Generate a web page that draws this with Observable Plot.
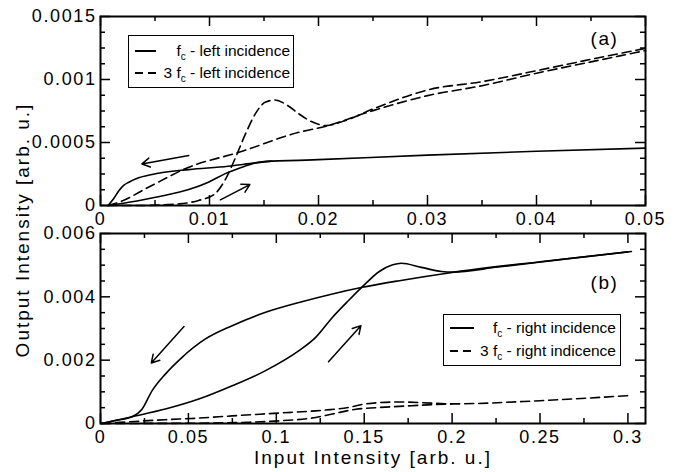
<!DOCTYPE html>
<html><head><meta charset="utf-8">
<script src="https://cdn.jsdelivr.net/npm/d3@7"></script>
<script src="https://cdn.jsdelivr.net/npm/@observablehq/plot@0.6"></script>
<style>
body{margin:0;background:#fff;}
#chart{position:relative;width:678px;height:472px;font-family:"Liberation Sans",Arial,sans-serif;color:#000;overflow:hidden;}
#chart svg{position:absolute;left:0;top:0;}
.legend{position:absolute;box-sizing:border-box;border:1px solid #000;background:#fff;font-size:15.5px;}
.row{position:absolute;left:0;right:0;height:20px;}
.row svg{position:absolute;top:0;}
.row .lab{position:absolute;top:0;line-height:20px;white-space:nowrap;}
.row sub{font-size:10px;vertical-align:-4px;line-height:0;}
.axlab{position:absolute;font-size:19px;letter-spacing:2px;white-space:nowrap;}
</style>
</head><body>
<div id="chart"></div>
<script>
// ---------- Panel (a): left incidence ----------
const aFcUpX   = [0.0007, 0.0026, 0.0053, 0.0081, 0.0099, 0.0114, 0.0130, 0.0142, 0.0157];
const aFcUpY   = [0, 0.000026, 0.00007, 0.000127, 0.000185, 0.000251, 0.000304, 0.000338, 0.000352];
const aFcDownX = [0.0007, 0.0012, 0.0017, 0.0021, 0.0026, 0.0035, 0.0053, 0.0081, 0.0117, 0.0142, 0.0157, 0.0182, 0.020, 0.030, 0.040, 0.050];
const aFcDownY = [0, 0.000053, 0.000119, 0.000158, 0.000185, 0.00022, 0.000256, 0.000285, 0.000311, 0.000338, 0.000352, 0.000358, 0.000364, 0.0004, 0.00043, 0.000455];
const a3FcDownX = [0.0007, 0.0017, 0.0044, 0.0081, 0.0127, 0.0182, 0.0205, 0.025, 0.030, 0.035, 0.040, 0.045, 0.050];
const a3FcDownY = [0, 0.000026, 0.000145, 0.000304, 0.000422, 0.000581, 0.000625, 0.000753, 0.000872, 0.000951, 0.00105, 0.00114, 0.00123];
const a3FcUpX = [0.0007, 0.0035, 0.0072, 0.0090, 0.0105, 0.0114, 0.0124, 0.0133, 0.0142, 0.0151, 0.0160, 0.0172, 0.0182, 0.0195, 0.0207, 0.0220, 0.025, 0.030, 0.035, 0.040, 0.045, 0.050];
const a3FcUpY = [0, 0, 0.000013, 0.00004, 0.000093, 0.000198, 0.000383, 0.000568, 0.000727, 0.000819, 0.000837, 0.000792, 0.000727, 0.00066, 0.000634, 0.00066, 0.000766, 0.000917, 0.000983, 0.00107, 0.00116, 0.001247];
const aArrowX1 = [0.0081, 0.0110];
const aArrowY1 = [0.000396, 0.000045];
const aArrowX2 = [0.0038, 0.0137];
const aArrowY2 = [0.00033, 0.000166];
const aXDomain = [0, 0.05];
const aYDomain = [0, 0.0015];
const aXMajor = [0, 0.01, 0.02, 0.03, 0.04, 0.05];
const aXLabels = ["0", "0.01", "0.02", "0.03", "0.04", "0.05"];
const aXMinor = [0.005, 0.015, 0.025, 0.035, 0.045];
const aYMajor = [0, 0.0005, 0.001, 0.0015];
const aYLabels = ["0", "0.0005", "0.001", "0.0015"];
const aYMinor = [0.000125, 0.00025, 0.000375, 0.000625, 0.00075, 0.000875, 0.001125, 0.00125, 0.001375];

// ---------- Panel (b): right incidence ----------
const bFcDownX = [0.0007, 0.009, 0.0179, 0.0236, 0.0293, 0.0369, 0.0464, 0.0597, 0.0749, 0.0939, 0.1129, 0.1319, 0.149, 0.17, 0.2, 0.25, 0.302];
const bFcDownY = [0, 0.0001, 0.000212, 0.00045, 0.00103, 0.00156, 0.00209, 0.00267, 0.00309, 0.00351, 0.00382, 0.00409, 0.0043, 0.00451, 0.00477, 0.00511, 0.00543];
const bFcUpX = [0.0007, 0.009, 0.0179, 0.0369, 0.0559, 0.0749, 0.0939, 0.1129, 0.1224, 0.1319, 0.1414, 0.149, 0.1586, 0.1662, 0.1711, 0.1825, 0.1939, 0.2, 0.226, 0.264, 0.3];
const bFcUpY = [0, 0.0001, 0.000212, 0.000455, 0.00077, 0.00119, 0.00167, 0.0023, 0.00272, 0.00335, 0.0039, 0.00432, 0.0048, 0.00501, 0.00506, 0.00493, 0.0048, 0.00478, 0.00494, 0.00519, 0.00542];
const b3FcDownX = [0.0007, 0.0369, 0.0559, 0.0749, 0.1015, 0.1224, 0.1414, 0.151, 0.17, 0.19, 0.2, 0.25, 0.3];
const b3FcDownY = [0, 0.00012, 0.00017, 0.00024, 0.00033, 0.0004, 0.00051, 0.00062, 0.00068, 0.00064, 0.00062, 0.00072, 0.00088];
const b3FcUpX = [0.0007, 0.0559, 0.0844, 0.1034, 0.1224, 0.1319, 0.1452, 0.1567, 0.17, 0.19, 0.2];
const b3FcUpY = [0, 0.00001, 0.00004, 0.00009, 0.00019, 0.0003, 0.00045, 0.0005, 0.00054, 0.0006, 0.00062];
const bArrowX1 = [0.0475, 0.1297];
const bArrowY1 = [0.00306, 0.00195];
const bArrowX2 = [0.0289, 0.1481];
const bArrowY2 = [0.00191, 0.00309];
const bXDomain = [0, 0.31];
const bYDomain = [0, 0.006];
const bXMajor = [0, 0.05, 0.1, 0.15, 0.2, 0.25, 0.3];
const bXLabels = ["0", "0.05", "0.1", "0.15", "0.2", "0.25", "0.3"];
const bXMinor = [0.025, 0.075, 0.125, 0.175, 0.225, 0.275];
const bYMajor = [0, 0.002, 0.004, 0.006];
const bYLabels = ["0", "0.002", "0.004", "0.006"];
const bYMinor = [0.0005, 0.001, 0.0015, 0.0025, 0.003, 0.0035, 0.0045, 0.005, 0.0055];

// ---------- Text ----------
const yTitle = "Output Intensity [arb. u.]";
const xTitle = "Input Intensity [arb. u.]";
const aTag = "(a)", bTag = "(b)";
const aLegend = [["", "f", "c", " - left incidence"], ["3 ", "f", "c", " - left incidence"]];
const bLegend = [["", "f", "c", " - right incidence"], ["3 ", "f", "c", " - right indicence"]];

const W = 678, H = 472;
const pts = (xs, ys) => xs.map((x, i) => ({x, y: ys[i]}));

function panel(o) {
  const ml = 100, mr = 33, mt = o.top, mb = H - o.bottom;
  const fw = W - ml - mr, fh = o.bottom - o.top;
  const major = 10, minor = 5;
  const lineOpts = dash => ({x: "x", y: "y", stroke: "black", strokeWidth: 1.6, curve: "monotone-x", strokeDasharray: dash ? "9,5" : null});
  const arrows = o.ax1.map((d, i) => ({x1: d, y1: o.ay1[i], x2: o.ax2[i], y2: o.ay2[i]}));
  return Plot.plot({
    width: W, height: H,
    marginLeft: ml, marginRight: mr, marginTop: mt, marginBottom: mb,
    x: {domain: o.xDomain, label: null},
    y: {domain: o.yDomain, label: null},
    style: {background: "transparent", fontFamily: "'Liberation Sans', Arial, sans-serif", fontSize: "18px", letterSpacing: "1.6px", overflow: "visible", color: "black"},
    marks: [
      ...o.series.map(s => Plot.line(pts(s.x, s.y), lineOpts(s.dash))),
      Plot.arrow(arrows, {x1: "x1", y1: "y1", x2: "x2", y2: "y2", stroke: "black", strokeWidth: 1.5, headLength: 9}),
      Plot.tickX(o.xMajor, {x: d => d, insetTop: fh - major, strokeWidth: 1.5}),
      Plot.tickX(o.xMajor, {x: d => d, insetBottom: fh - major, strokeWidth: 1.5}),
      Plot.tickX(o.xMinor, {x: d => d, insetTop: fh - minor, strokeWidth: 1.5}),
      Plot.tickX(o.xMinor, {x: d => d, insetBottom: fh - minor, strokeWidth: 1.5}),
      Plot.tickY(o.yMajor, {y: d => d, insetRight: fw - major, strokeWidth: 1.5}),
      Plot.tickY(o.yMajor, {y: d => d, insetLeft: fw - major, strokeWidth: 1.5}),
      Plot.tickY(o.yMinor, {y: d => d, insetRight: fw - minor, strokeWidth: 1.5}),
      Plot.tickY(o.yMinor, {y: d => d, insetLeft: fw - minor, strokeWidth: 1.5}),
      Plot.frame({stroke: "black", strokeWidth: 2}),
      Plot.axisX({ticks: o.xMajor, tickSize: 0, tickPadding: 7, label: null, tickFormat: d => o.xLabels[o.xMajor.indexOf(d)]}),
      Plot.axisY({ticks: o.yMajor, tickSize: 0, tickPadding: 4, label: null, tickFormat: d => o.yLabels[o.yMajor.indexOf(d)]}),
      Plot.text([o.tag], {text: d => d, frameAnchor: "top-right", lineAnchor: "middle", dx: -41, dy: o.tagDy, textAnchor: "middle", fontSize: 19})
    ]
  });
}

const chart = document.getElementById("chart");
chart.appendChild(panel({
  top: 16, bottom: 205, xDomain: aXDomain, yDomain: aYDomain,
  xMajor: aXMajor, xLabels: aXLabels, xMinor: aXMinor, yMajor: aYMajor, yLabels: aYLabels, yMinor: aYMinor,
  series: [{x: aFcUpX, y: aFcUpY}, {x: aFcDownX, y: aFcDownY}, {x: a3FcDownX, y: a3FcDownY, dash: true}, {x: a3FcUpX, y: a3FcUpY, dash: true}],
  ax1: aArrowX1, ay1: aArrowY1, ax2: aArrowX2, ay2: aArrowY2, tag: aTag, tagDy: 22
}));
chart.appendChild(panel({
  top: 233, bottom: 423, xDomain: bXDomain, yDomain: bYDomain,
  xMajor: bXMajor, xLabels: bXLabels, xMinor: bXMinor, yMajor: bYMajor, yLabels: bYLabels, yMinor: bYMinor,
  series: [{x: bFcUpX, y: bFcUpY}, {x: bFcDownX, y: bFcDownY}, {x: b3FcDownX, y: b3FcDownY, dash: true}, {x: b3FcUpX, y: b3FcUpY, dash: true}],
  ax1: bArrowX1, ay1: bArrowY1, ax2: bArrowX2, ay2: bArrowY2, tag: bTag, tagDy: 49
}));

function legend(entries, box, rowsY, sx, padRight) {
  const div = document.createElement("div");
  div.className = "legend";
  Object.assign(div.style, {left: box[0] + "px", top: box[1] + "px", width: box[2] + "px", height: box[3] + "px"});
  entries.forEach((e, i) => {
    const row = document.createElement("div");
    row.className = "row";
    row.style.top = (rowsY[i] - 10) + "px";
    const dash = i === 1 ? ' stroke-dasharray="8,5"' : '';
    row.innerHTML = `<svg width="${sx[1]}" height="20" style="left:0"><line x1="${sx[0]}" x2="${sx[1]}" y1="10" y2="10" stroke="black" stroke-width="2"${dash}/></svg>` +
      `<span class="lab" style="right:${padRight}px">${e[0]}${e[1]}<sub>${e[2]}</sub>${e[3]}</span>`;
    div.appendChild(row);
  });
  chart.appendChild(div);
}
legend(aLegend, [128, 35, 166, 53], [15, 37], [6, 27], 3);
legend(bLegend, [443, 314, 178, 52], [13, 36], [6, 30], 4);

const yl = document.createElement("div");
yl.className = "axlab"; yl.textContent = yTitle;
Object.assign(yl.style, {left: "23px", top: "230px", transform: "translate(-50%,-50%) rotate(-90deg)"});
chart.appendChild(yl);
const xl = document.createElement("div");
xl.className = "axlab"; xl.textContent = xTitle;
Object.assign(xl.style, {left: "373px", top: "458px", transform: "translate(-50%,-50%)"});
chart.appendChild(xl);
</script>
</body></html>
